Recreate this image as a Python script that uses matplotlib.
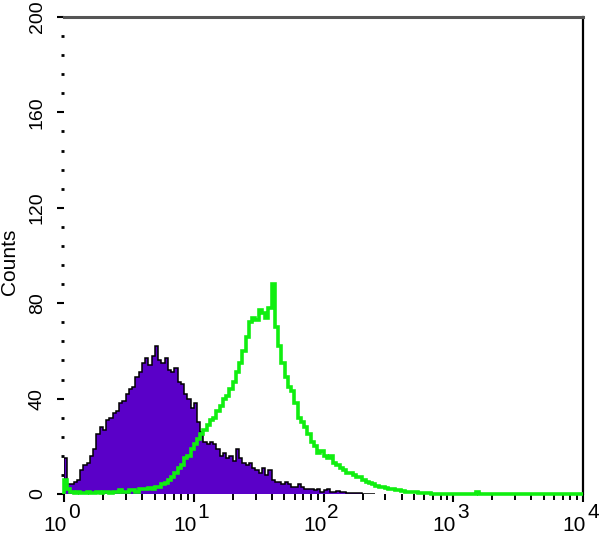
import matplotlib
matplotlib.use("Agg")
import matplotlib.pyplot as plt
import matplotlib.transforms as mtransforms
from matplotlib.ticker import MultipleLocator, LogLocator, NullFormatter
import numpy as np

# ---- data (counts per log-channel bin, bin width = 0.025 decades starting at 10^0) ----
bin_width_decades = 0.025
isotype_counts = [15, 4, 4, 5, 6, 10, 12, 13, 16, 19, 25, 28, 27, 31, 32, 34, 35, 38, 39, 42,
                  44, 45, 49, 51, 55, 57, 54, 58, 62, 56, 55, 57, 52, 51, 53, 47, 46, 42, 40, 36,
                  38, 30, 26, 22, 21, 22, 21, 19, 16, 17, 15, 16, 14, 19, 15, 13, 12, 13, 11, 10,
                  9, 11, 8, 10, 6, 5, 5, 4, 5, 4, 3, 3, 4, 3, 2, 2, 2, 1.5, 2, 1,
                  1.5, 2, 1, 1, 1.2, 0.8, 1, 0.5, 0.6, 0.4, 0.3, 0.3, 0.2, 0.2, 0.1, 0.1]
stained_counts = [6, 2, 1, 0.5, 1, 0.5, 0.5, 1, 0.5, 0.5, 1, 0.5, 1, 1, 0.5, 1, 1, 1.5, 1, 1,
                  1.5, 1.5, 1, 2, 2, 2, 2.5, 2, 3, 3, 4, 4.5, 6, 7, 9, 11, 12, 15, 16, 19,
                  21, 23, 25, 27, 29, 31, 32, 35, 37, 40, 41, 44, 47, 51, 55, 60, 66, 72, 74, 73,
                  77, 76, 74, 78, 88, 70, 62, 55, 49, 45, 43, 38, 32, 30, 28, 25, 22, 20, 17, 18,
                  16, 15, 16, 13, 12, 11, 10, 9, 9, 8, 7, 7, 6, 5, 4.5, 4, 3.5, 3, 3, 2.5,
                  2, 2, 1.5, 1.5, 1.2, 1, 1, 0.8, 0.7, 0.5, 0.5, 0.3, 0.3, 0.2, 0.2, 0.1, 0, 0, 0, 0,
                  0, 0, 0, 0, 0, 0, 0, 0.8, 0, 0, 0, 0, 0, 0, 0, 0, 0, 0, 0, 0,
                  0, 0, 0, 0, 0, 0, 0, 0, 0, 0, 0, 0, 0, 0, 0, 0, 0, 0, 0, 0]
y_ticks = [0, 40, 80, 120, 160, 200]
y_tick_labels = ["0", "40", "80", "120", "160", "200"]
x_decades = [0, 1, 2, 3, 4]
y_label = "Counts"

PURPLE = "#5a00c8"
GREEN = "#10ee10"
FONT = "Liberation Sans"

fig = plt.figure(figsize=(6.0, 5.47), dpi=100)
ax = fig.add_axes([64 / 600, 1 - 494 / 547, (583 - 64) / 600, (494 - 17) / 547])

def edges_for(n):
    return 10 ** (np.arange(n + 1) * bin_width_decades)

e1 = edges_for(len(isotype_counts))
ax.stairs(isotype_counts, e1, fill=True, color=PURPLE, zorder=2)
ax.stairs(isotype_counts, e1, color="black", lw=1.1, zorder=3)

e2 = edges_for(len(stained_counts))
ax.stairs(stained_counts, e2, color=GREEN, lw=2.6, zorder=4, clip_on=False)

ax.set_xscale("log")
ax.set_xlim(1, 1e4)
ax.set_ylim(0, 200)

for s in ("left", "bottom"):
    ax.spines[s].set_visible(False)
ax.spines["top"].set_color("#555555")
ax.spines["top"].set_linewidth(2.2)
ax.spines["right"].set_color("black")
ax.spines["right"].set_linewidth(1.6)

# y axis
ax.set_yticks(y_ticks)
ax.set_yticklabels(y_tick_labels, rotation=90, va="center", fontsize=14, family=FONT)
ax.yaxis.set_minor_locator(MultipleLocator(8))
ax.tick_params(axis="y", which="major", direction="out", length=5, width=1.5, pad=8)
ax.tick_params(axis="y", which="minor", direction="out", length=2, width=2)

# x axis
ax.xaxis.set_major_locator(LogLocator(base=10, numticks=10))
ax.xaxis.set_minor_locator(LogLocator(base=10, subs=np.arange(2, 10), numticks=20))
ax.xaxis.set_major_formatter(NullFormatter())
ax.xaxis.set_minor_formatter(NullFormatter())
ax.tick_params(axis="x", which="major", direction="out", length=6, width=1.5)
ax.tick_params(axis="x", which="minor", direction="out", length=4.5, width=1.4)

xt = ax.get_xaxis_transform()
for d in x_decades:
    t_base = mtransforms.offset_copy(xt, fig=fig, x=3, y=-37, units="dots")
    t_exp = mtransforms.offset_copy(xt, fig=fig, x=4, y=-24, units="dots")
    ax.text(10 ** d, 0, "10", transform=t_base, ha="right", va="baseline",
            fontsize=15, family=FONT, clip_on=False)
    ax.text(10 ** d, 0, str(d), transform=t_exp, ha="left", va="baseline",
            fontsize=15, family=FONT, clip_on=False)

fig.text(10 / 600, 1 - 262 / 547, y_label, rotation=90, ha="center", va="center",
         fontsize=15, family=FONT)

fig.savefig("out.png", dpi=100)
